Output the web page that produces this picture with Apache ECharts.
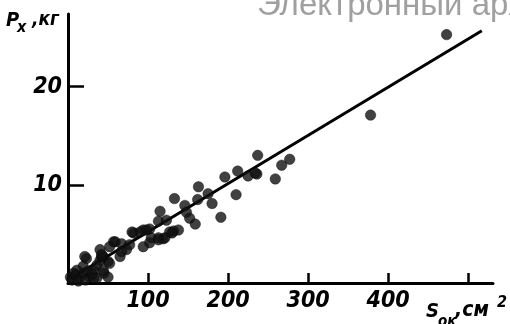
<!DOCTYPE html>
<html>
<head>
<meta charset="utf-8">
<script src="https://cdn.jsdelivr.net/npm/echarts@6/dist/echarts.min.js"></script>
<style>html,body{margin:0;padding:0;background:#fff;}#c{width:510px;height:324px;}</style>
</head>
<body>
<div id="c"></div>
<script>
// Data
const xTicks = [100, 200, 300, 400, 500];
const xTickLabels = [100, 200, 300, 400];
const yTicks = [10, 20];
const points = [
  [473,25.3],[378,17.1],
  [237,13.0],[277,12.6],[267,12.0],[259,10.6],[212,11.4],[196,10.8],[225,10.9],[236,11.1],[234,11.2],
  [163,9.8],[210,9.0],[175,9.1],[180,8.1],[162,8.5],[133,8.6],[146,7.9],[191,6.7],[148,7.2],[152,6.6],[159,6.0],
  [115,7.3],[113,6.3],[123,6.4],[132,5.3],[138,5.4],[127,5.2],[94,5.4],[102,5.5],[104,4.6],[113,4.6],[119,4.5],
  [130,5.1],[121,4.6],[113,4.4],[102,4.1],[94,3.7],[82,5.1],[90,5.2],[98,5.4],[80,5.2],[57,4.2],
  [59,4.2],[67,4.0],[77,3.9],[73,3.4],[65,2.7],[67,3.2],[44,2.7],[50,2.2],[40,2.3],[36,1.8],[32,1.3],
  [23,2.5],[21,2.7],[42,2.7],[19,1.7],[11,1.3],[7,1.0],[3,0.6],[27,0.6],[36,0.5],[15,0.6],[52,3.7],[40,3.4],[42,2.9],
  [5,0.3],[10,0.8],[20,1.0],[25,1.2],[30,0.9],[45,1.0],[50,0.6],[13,0.2],[22,0.3],[32,0.5],[44,1.3],[52,2.0]
];
const fitLine = [[0,0.3],[517,25.7]];

const tickFont = '"DejaVu Sans Condensed", "Liberation Sans Narrow", sans-serif';
const chart = echarts.init(document.getElementById('c'));
chart.setOption({
  animation: false,
  backgroundColor: '#fff',
  grid: {left: 68, right: 17, top: 14, bottom: 41, containLabel: false},
  xAxis: {
    type: 'value', min: 0, max: 531,
    axisLine: {show: true, lineStyle: {color: '#000', width: 3}},
    axisTick: {show: true, inside: true, length: 10, customValues: xTicks, lineStyle: {color: '#000', width: 2.5}},
    axisLabel: {customValues: xTickLabels, color: '#000', fontFamily: tickFont, fontStyle: 'italic', fontWeight: 'bold', fontSize: 23, margin: 7},
    splitLine: {show: false}
  },
  yAxis: {
    type: 'value', min: 0, max: 27.4,
    axisLine: {show: true, lineStyle: {color: '#000', width: 3}},
    axisTick: {show: true, inside: true, length: 16, customValues: yTicks, lineStyle: {color: '#000', width: 2.5}},
    axisLabel: {customValues: yTicks, color: '#000', fontFamily: tickFont, fontStyle: 'italic', fontWeight: 'bold', fontSize: 23, margin: 6},
    splitLine: {show: false}
  },
  graphic: [
    {type: 'text', style: {x: 257, y: 22, text: 'Электронный архив', font: '33px "Liberation Sans", Arial, sans-serif', fill: '#a0a0a0', verticalAlign: 'bottom'}},
    {type: 'text', style: {x: 6, y: 31, text: 'P', font: 'italic bold 20px ' + tickFont, fill: '#000', verticalAlign: 'bottom'}},
    {type: 'text', style: {x: 17, y: 36, text: 'x', font: 'italic bold 16px ' + tickFont, fill: '#000', verticalAlign: 'bottom'}},
    {type: 'text', style: {x: 32, y: 30, text: ',кг', font: 'italic bold 19px ' + tickFont, fill: '#000', verticalAlign: 'bottom'}},
    {type: 'text', style: {x: 426, y: 322, text: 'S', font: 'italic bold 20px ' + tickFont, fill: '#000', verticalAlign: 'bottom'}},
    {type: 'text', style: {x: 438, y: 330, text: 'ок', font: 'italic bold 15px ' + tickFont, fill: '#000', verticalAlign: 'bottom'}},
    {type: 'text', style: {x: 455, y: 321, text: ',см', font: 'italic bold 21px ' + tickFont, fill: '#000', verticalAlign: 'bottom'}},
    {type: 'text', style: {x: 497, y: 311, text: '2', font: 'italic bold 16px ' + tickFont, fill: '#000', verticalAlign: 'bottom'}}
  ],
  series: [
    {type: 'line', data: fitLine, showSymbol: false, lineStyle: {color: '#000', width: 3}, z: 2},
    {type: 'scatter', data: points, symbol: 'circle', symbolSize: 10.5, itemStyle: {color: '#111', borderColor: '#000', borderWidth: 0.5}, z: 3}
  ]
});
</script>
</body>
</html>
